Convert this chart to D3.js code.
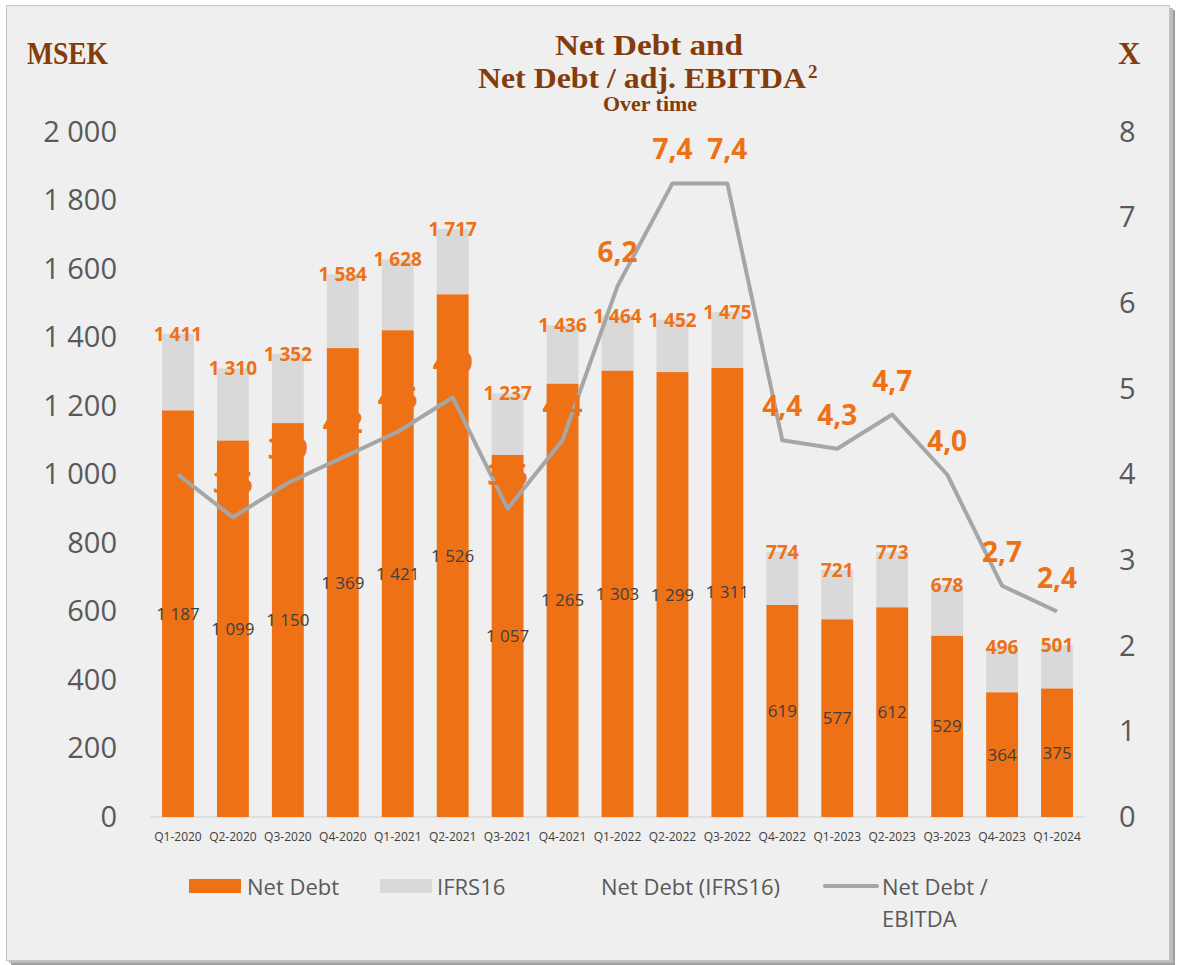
<!DOCTYPE html>
<html>
<head>
<meta charset="utf-8">
<script src="https://cdn.jsdelivr.net/npm/d3@7"></script>
<style>
  body { margin: 0; background: #ffffff; }
  svg { display: block; }
</style>
</head>
<body>
<div id="chart"></div>
<script>
// kvartal
const quarters = ['Q1-2020', 'Q2-2020', 'Q3-2020', 'Q4-2020', 'Q1-2021', 'Q2-2021', 'Q3-2021', 'Q4-2021',
  'Q1-2022', 'Q2-2022', 'Q3-2022', 'Q4-2022', 'Q1-2023', 'Q2-2023', 'Q3-2023', 'Q4-2023', 'Q1-2024']
// nettoskuld exkl. IFRS16
const netDebt = [1187, 1099, 1150, 1369, 1421, 1526, 1057, 1265, 1303, 1299, 1311, 619, 577, 612, 529, 364, 375]
// nettoskuld inkl. IFRS16
const netDebtIfrs = [1411, 1310, 1352, 1584, 1628, 1717, 1237, 1436, 1464, 1452, 1475, 774, 721, 773, 678, 496, 501]
// nettoskuld / EBITDA
const ratio = [4.0, 3.5, 3.9, 4.2, 4.5, 4.9, 3.6, 4.4, 6.2, 7.4, 7.4, 4.4, 4.3, 4.7, 4.0, 2.7, 2.4]
const leftTicks = [0, 200, 400, 600, 800, 1000, 1200, 1400, 1600, 1800, 2000]
const rightTicks = [0, 1, 2, 3, 4, 5, 6, 7, 8]

const W = 1178
const H = 965
const orange = '#ee7116'
const lightGray = '#d9d9d9'
const lineGray = '#a6a6a6'
const brown = '#843c0c'
const textGray = '#595959'
const sans = "'Open Sans', 'Noto Sans', sans-serif"
const serif = "'Liberation Serif', 'DejaVu Serif', serif"

const fmt = v => d3.format(',')(v).replace(/,/g, ' ')
const fmtRatio = v => v.toFixed(1).replace('.', ',')

const svg = d3.select('#chart').append('svg')
  .attr('width', W)
  .attr('height', H)

// skugga + ram
svg.append('rect')
  .attr('x', 11).attr('y', 10).attr('width', 1164).attr('height', 955)
  .attr('fill', '#9f9f9f')
svg.append('rect')
  .attr('x', 9).attr('y', 8).attr('width', 1164).attr('height', 955)
  .attr('fill', '#bcbcbc')
svg.append('rect')
  .attr('x', 6.5).attr('y', 5.5).attr('width', 1163).attr('height', 955)
  .attr('fill', '#efefef')
  .attr('stroke', '#c4c4c4')

const x = d3.scaleBand()
  .domain(quarters)
  .range([150.5, 1084.5])
  .paddingInner(0.42)
  .paddingOuter(0.21)

const y = d3.scaleLinear().domain([0, 2000]).range([817, 132])
const y2 = d3.scaleLinear().domain([0, 8]).range([817, 132])

const rows = quarters.map((q, i) => ({
  q, net: netDebt[i], total: netDebtIfrs[i], ratio: ratio[i]
}))

// vänster axel
const yAxis = svg.append('g')
  .attr('transform', 'translate(120,0)')
  .call(d3.axisLeft(y).tickValues(leftTicks).tickFormat(fmt).tickSize(0).tickPadding(3))
yAxis.select('.domain').remove()
yAxis.selectAll('text')
  .attr('fill', textGray)
  .style('font-family', sans)
  .style('font-size', '29px')

// höger axel
const y2Axis = svg.append('g')
  .attr('transform', 'translate(1117,0)')
  .call(d3.axisRight(y2).tickValues(rightTicks).tickSize(0).tickPadding(2))
y2Axis.select('.domain').remove()
y2Axis.selectAll('text')
  .attr('fill', textGray)
  .style('font-family', sans)
  .style('font-size', '29px')

// x-axel
const xAxis = svg.append('g')
  .attr('transform', `translate(0,${y(0)})`)
  .call(d3.axisBottom(x).tickSize(0).tickPadding(15))
xAxis.select('.domain').attr('stroke', '#d9d9d9').attr('stroke-width', 1.5)
  .attr('d', 'M150.5,0H1084.5')
xAxis.selectAll('text')
  .attr('fill', '#404040')
  .style('font-family', sans)
  .style('font-size', '12px')

// staplar
const bars = svg.append('g')
bars.selectAll('rect.ifrs')
  .data(rows)
  .join('rect')
  .attr('class', 'ifrs')
  .attr('x', d => x(d.q))
  .attr('width', x.bandwidth())
  .attr('y', d => y(d.total))
  .attr('height', d => y(d.net) - y(d.total))
  .attr('fill', lightGray)

bars.selectAll('rect.net')
  .data(rows)
  .join('rect')
  .attr('class', 'net')
  .attr('x', d => x(d.q))
  .attr('width', x.bandwidth())
  .attr('y', d => y(d.net))
  .attr('height', d => y(0) - y(d.net))
  .attr('fill', orange)

// etiketter i staplarna
svg.append('g').selectAll('text')
  .data(rows)
  .join('text')
  .attr('x', d => x(d.q) + x.bandwidth() / 2)
  .attr('y', d => (y(d.net) + y(0)) / 2 + 6)
  .attr('text-anchor', 'middle')
  .attr('fill', '#404040')
  .style('font-family', sans)
  .style('font-size', '17px')
  .text(d => fmt(d.net))

// totaletiketter
svg.append('g').selectAll('text')
  .data(rows)
  .join('text')
  .attr('x', d => x(d.q) + x.bandwidth() / 2)
  .attr('y', d => y(d.total) + 7)
  .attr('text-anchor', 'middle')
  .attr('fill', orange)
  .style('font-family', sans)
  .style('font-weight', 700)
  .style('font-size', '19px')
  .text(d => fmt(d.total))

// linje
const line = d3.line()
  .x(d => x(d.q) + x.bandwidth() / 2)
  .y(d => y2(d.ratio))

svg.append('path')
  .datum(rows)
  .attr('d', line)
  .attr('fill', 'none')
  .attr('stroke', lineGray)
  .attr('stroke-width', 4)
  .attr('stroke-linejoin', 'round')

// första kvartalets etikett syns inte i originalet
svg.append('g').selectAll('text')
  .data(rows.slice(1))
  .join('text')
  .attr('x', d => x(d.q) + x.bandwidth() / 2)
  .attr('y', d => y2(d.ratio) - 24)
  .attr('text-anchor', 'middle')
  .attr('fill', orange)
  .style('font-family', sans)
  .style('font-weight', 700)
  .style('font-size', '28px')
  .text(d => fmtRatio(d.ratio))

// rubriker
const title = svg.append('g')
  .attr('fill', brown)
  .style('font-family', serif)
  .style('font-weight', 700)
title.append('text')
  .attr('x', 649).attr('y', 55)
  .attr('text-anchor', 'middle')
  .attr('textLength', 188).attr('lengthAdjust', 'spacingAndGlyphs')
  .style('font-size', '30px')
  .text('Net Debt and')
title.append('text')
  .attr('x', 642).attr('y', 88)
  .attr('text-anchor', 'middle')
  .attr('textLength', 328).attr('lengthAdjust', 'spacingAndGlyphs')
  .style('font-size', '30px')
  .text('Net Debt / adj. EBITDA')
title.append('text')
  .attr('x', 808).attr('y', 78)
  .style('font-size', '19px')
  .text('2')
title.append('text')
  .attr('x', 650).attr('y', 111)
  .attr('text-anchor', 'middle')
  .attr('textLength', 94).attr('lengthAdjust', 'spacingAndGlyphs')
  .style('font-size', '21px')
  .text('Over time')
title.append('text')
  .attr('x', 27).attr('y', 64)
  .attr('textLength', 81).attr('lengthAdjust', 'spacingAndGlyphs')
  .style('font-size', '31px')
  .text('MSEK')
title.append('text')
  .attr('x', 1118).attr('y', 64)
  .style('font-size', '31px')
  .text('X')

// legend
const legend = svg.append('g')
  .style('font-family', sans)
  .style('font-size', '22px')
  .attr('fill', textGray)
legend.append('rect').attr('x', 189).attr('y', 879).attr('width', 52).attr('height', 14).attr('fill', orange)
legend.append('text').attr('x', 247).attr('y', 895).text('Net Debt')
legend.append('rect').attr('x', 380).attr('y', 879).attr('width', 52).attr('height', 14).attr('fill', lightGray)
legend.append('text').attr('x', 437).attr('y', 895).text('IFRS16')
legend.append('text').attr('x', 601).attr('y', 895).text('Net Debt (IFRS16)')
legend.append('line').attr('x1', 825).attr('x2', 877).attr('y1', 886).attr('y2', 886)
  .attr('stroke', lineGray).attr('stroke-width', 4).attr('stroke-linecap', 'round')
legend.append('text').attr('x', 882).attr('y', 895).text('Net Debt /')
legend.append('text').attr('x', 882).attr('y', 927).text('EBITDA')
</script>
</body>
</html>
